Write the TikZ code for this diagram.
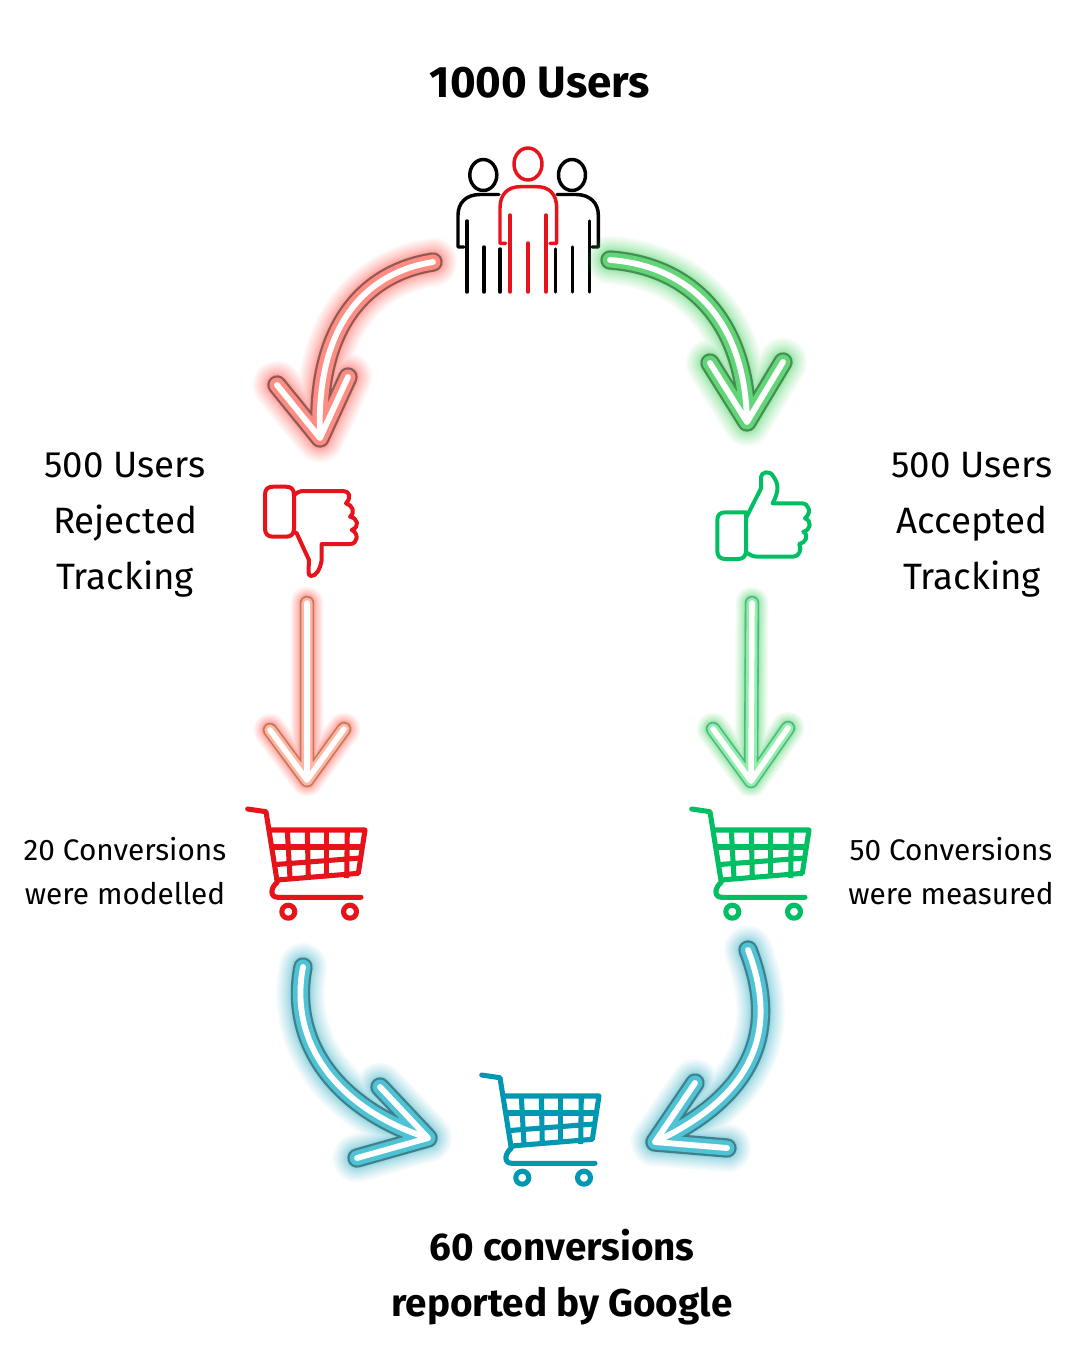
\documentclass[tikz,border=0pt]{standalone}
\usepackage{fontspec}
\setmainfont{Fira Sans}
\definecolor{cartred}{HTML}{E8131A}
\definecolor{cartgreen}{HTML}{00BF63}
\definecolor{cartblue}{HTML}{0097B2}
\definecolor{redglow}{HTML}{FF5A50}
\definecolor{rededge}{HTML}{8F5A55}
\definecolor{redfill}{HTML}{FF8C82}
\definecolor{peachedge}{HTML}{C07A55}
\definecolor{peachfill}{HTML}{FFB4A5}
\definecolor{greenglow}{HTML}{4CD964}
\definecolor{greenedge}{HTML}{458C55}
\definecolor{greenfill}{HTML}{62D677}
\definecolor{mintedge}{HTML}{4FB58C}
\definecolor{mintfill}{HTML}{90F0A5}
\definecolor{blueglow}{HTML}{40B8CC}
\definecolor{blueedge}{HTML}{41808A}
\definecolor{bluefill}{HTML}{4EC3D5}
\tikzset{
  icon/.style={line width=2.6pt,line cap=round,line join=round},
  thumb/.style={line width=3pt,line cap=round,line join=round},
  wire/.style={line width=3.8pt,line join=round},
  tube/.style={line cap=round,line join=round},
  label/.style={font=\fontsize{27.5}{42}\selectfont,align=center},
  small/.style={font=\fontsize{22.3}{33}\selectfont,align=center},
  title/.style={font=\bfseries\fontsize{29}{42}\selectfont,align=center},
  cart/.pic={
    \draw[wire,line cap=round] (12.7,14) -- (31,16.7) -- (42.3,87.3)
      .. controls (36,92) and (34,102.3) .. (43,102.3) -- (126,102.3);
    \draw[wire] (35,35) -- (130,35) -- (123.3,78.3) -- (42.3,85);
    \draw[wire] (38.5,52) -- (127.5,52);
    \draw[wire] (41,69.5) -- (125,63);
    \foreach \top/\bot in {52.3/55,72.3/73.3,91.7/91.7,112.3/111.7}
      \draw[wire] (\top,35) -- (\bot,83);
    \draw[wire] (53.3,116.7) circle (6.5);
    \draw[wire] (115,116.7) circle (6.5);
  }
}
% glow, edge, fill colours; edge/fill/core widths and glow spread; path
\newcommand{\neon}[5]{
  \foreach \e/\f/\c/\s in {#4}{
    \foreach \g in {1,...,14}
      \draw[tube,#1,opacity=.06,line width=\e pt+\g*\g*\s pt] #5;
    \draw[tube,#2,line width=\e pt] #5;
    \draw[tube,#3,line width=\f pt] #5;
    \draw[tube,white,line width=\c pt] #5;
  }
}
\begin{document}
\begin{tikzpicture}[x=.75pt,y=-.75pt]
  \useasboundingbox[fill=white] (0,0) rectangle (1080,1350);

  \node (total) [title,font=\bfseries\fontsize{33}{42}\selectfont] at (540,83) {1000 Users};
  \node (rejected) [label] at (125,525) {500 Users\\Rejected\\Tracking};
  \node (accepted) [label] at (972,525) {500 Users\\Accepted\\Tracking};
  \node (modelled) [small] at (125,871) {20 Conversions\\were modelled};
  \node (measured) [small] at (951,871) {50 Conversions\\were measured};
  \node (reported) [title] at (562,1277) {60 conversions\\reported by Google};

  % people
  \draw[icon] (483.3,175) circle [x radius=13.5,y radius=15.5];
  \draw[icon] (572,175) circle [x radius=13.5,y radius=15.5];
  \draw[icon] (499,194.5) -- (480,194.5) .. controls (466,194.5) and (458,203) .. (458,215)
    -- (458,247) -- (464,247);
  \draw[icon] (557,194.5) -- (576,194.5) .. controls (590,194.5) and (598.3,203) .. (598.3,215)
    -- (598.3,247) -- (592,247);
  \foreach \leg/\top in {467/221,484/247,500/249,555.7/249,572.3/247,589.3/221}
    \draw[icon] (\leg,\top) -- (\leg,292);
  \draw[icon,cartred] (528,164) circle [x radius=14,y radius=16];
  \draw[icon,cartred] (505.7,243.3) -- (500,243.3) -- (500,208)
    .. controls (500,194) and (508,186.7) .. (520,186.7) -- (537,186.7)
    .. controls (549,186.7) and (556.7,194) .. (556.7,208) -- (556.7,243.3) -- (550,243.3);
  \foreach \leg/\top in {510/215,528/243,546/215}
    \draw[icon,cartred] (\leg,\top) -- (\leg,292);

  % thumbs
  \draw[thumb,cartred] (265,494.7) .. controls (265,489) and (268,486.7) .. (273,486.7) -- (286,486.7)
    .. controls (291,486.7) and (294,489) .. (294,494.7) -- (294,528.7)
    .. controls (294,534) and (291,536.7) .. (286,536.7) -- (273,536.7)
    .. controls (268,536.7) and (265,534) .. (265,528.7) -- cycle;
  \draw[thumb,cartred] (294,495) .. controls (297,493) and (299,491) .. (302,491) -- (343.3,491)
    .. controls (349,491) and (352,497) .. (346,503.3)
    .. controls (352,505) and (356,512) .. (350,516.7)
    .. controls (358,518) and (360,527) .. (351.7,530)
    .. controls (359,533) and (358,544) .. (350,544) -- (321.7,544) -- (321.7,560)
    .. controls (320,570) and (316,576) .. (311,576)
    .. controls (307,576) and (309,568) .. (309,560) -- (296.7,533.3) -- (294,532);
  \draw[thumb,cartgreen] (717.3,520.3) .. controls (717.3,515) and (720,512.3) .. (725.3,512.3) -- (746,512.3)
    -- (746,551) .. controls (746,556) and (743,559) .. (738,559) -- (725.3,559)
    .. controls (720,559) and (717.3,556) .. (717.3,551) -- cycle;
  \draw[thumb,cartgreen] (746.7,516.7) -- (761,488.3) -- (761,477)
    .. controls (761,472) and (770,470) .. (773,476)
    .. controls (779,484) and (779,491) .. (772.7,503.3) -- (801.7,503.3)
    .. controls (809,503.3) and (812,513) .. (805,518.3)
    .. controls (812,521) and (811,530) .. (803.3,531.7)
    .. controls (809,535) and (806,543) .. (799.3,544)
    .. controls (802,550) and (799,556.7) .. (793,556.7) -- (758,556.7)
    .. controls (753,556.7) and (750,555) .. (746.7,552.7);

  % carts
  \pic[cartred] at (235,795) {cart};
  \pic[cartgreen] at (679,795) {cart};
  \pic[cartblue] at (469,1061) {cart};

  % arrow ends
  \path (433,262) coordinate (rsA) (320,438) coordinate (rtA) (277,385) coordinate (rlA) (348,377) coordinate (rrA);
  \path (610,260) coordinate (gsA) (747,422) coordinate (gtA) (710,363) coordinate (glA) (783,362) coordinate (grA);
  \path (307,603) coordinate (rsB) (307,780) coordinate (rtB) (270,730) coordinate (rlB) (344,729) coordinate (rrB);
  \path (752,603) coordinate (gsB) (751,781) coordinate (gtB) (713,729) coordinate (glB) (788,728) coordinate (grB);
  \path (303,967) coordinate (bsA) (428,1138) coordinate (btA) (380,1087) coordinate (buA) (357,1158) coordinate (bdA);
  \path (748,950) coordinate (bsB) (655,1142) coordinate (btB) (695,1083) coordinate (buB) (727,1148) coordinate (bdB);

  \neon{redglow}{rededge}{redfill}{14.5/11.2/4.4/.11}{(rsA) .. controls (370,272) and (315,320) .. (rtA) (rlA) -- (rtA) -- (rrA)}
  \neon{greenglow}{greenedge}{greenfill}{14.5/11.2/4.4/.11}{(gsA) .. controls (680,265) and (745,310) .. (gtA) (glA) -- (gtA) -- (grA)}
  \neon{redglow}{peachedge}{peachfill}{10.8/8.4/4.2/.07}{(rsB) -- (rtB) (rlB) -- (rtB) -- (rrB)}
  \neon{greenglow}{mintedge}{mintfill}{10.8/8.4/4.2/.07}{(gsB) -- (gtB) (glB) -- (gtB) -- (grB)}
  \neon{blueglow}{blueedge}{bluefill}{14.5/11.2/4.4/.11}{(bsA) .. controls (288,1045) and (340,1110) .. (btA) (buA) -- (btA) -- (bdA)}
  \neon{blueglow}{blueedge}{bluefill}{14.5/11.2/4.4/.11}{(bsB) .. controls (775,1020) and (765,1090) .. (btB) (buB) -- (btB) -- (bdB)}
\end{tikzpicture}
\end{document}
